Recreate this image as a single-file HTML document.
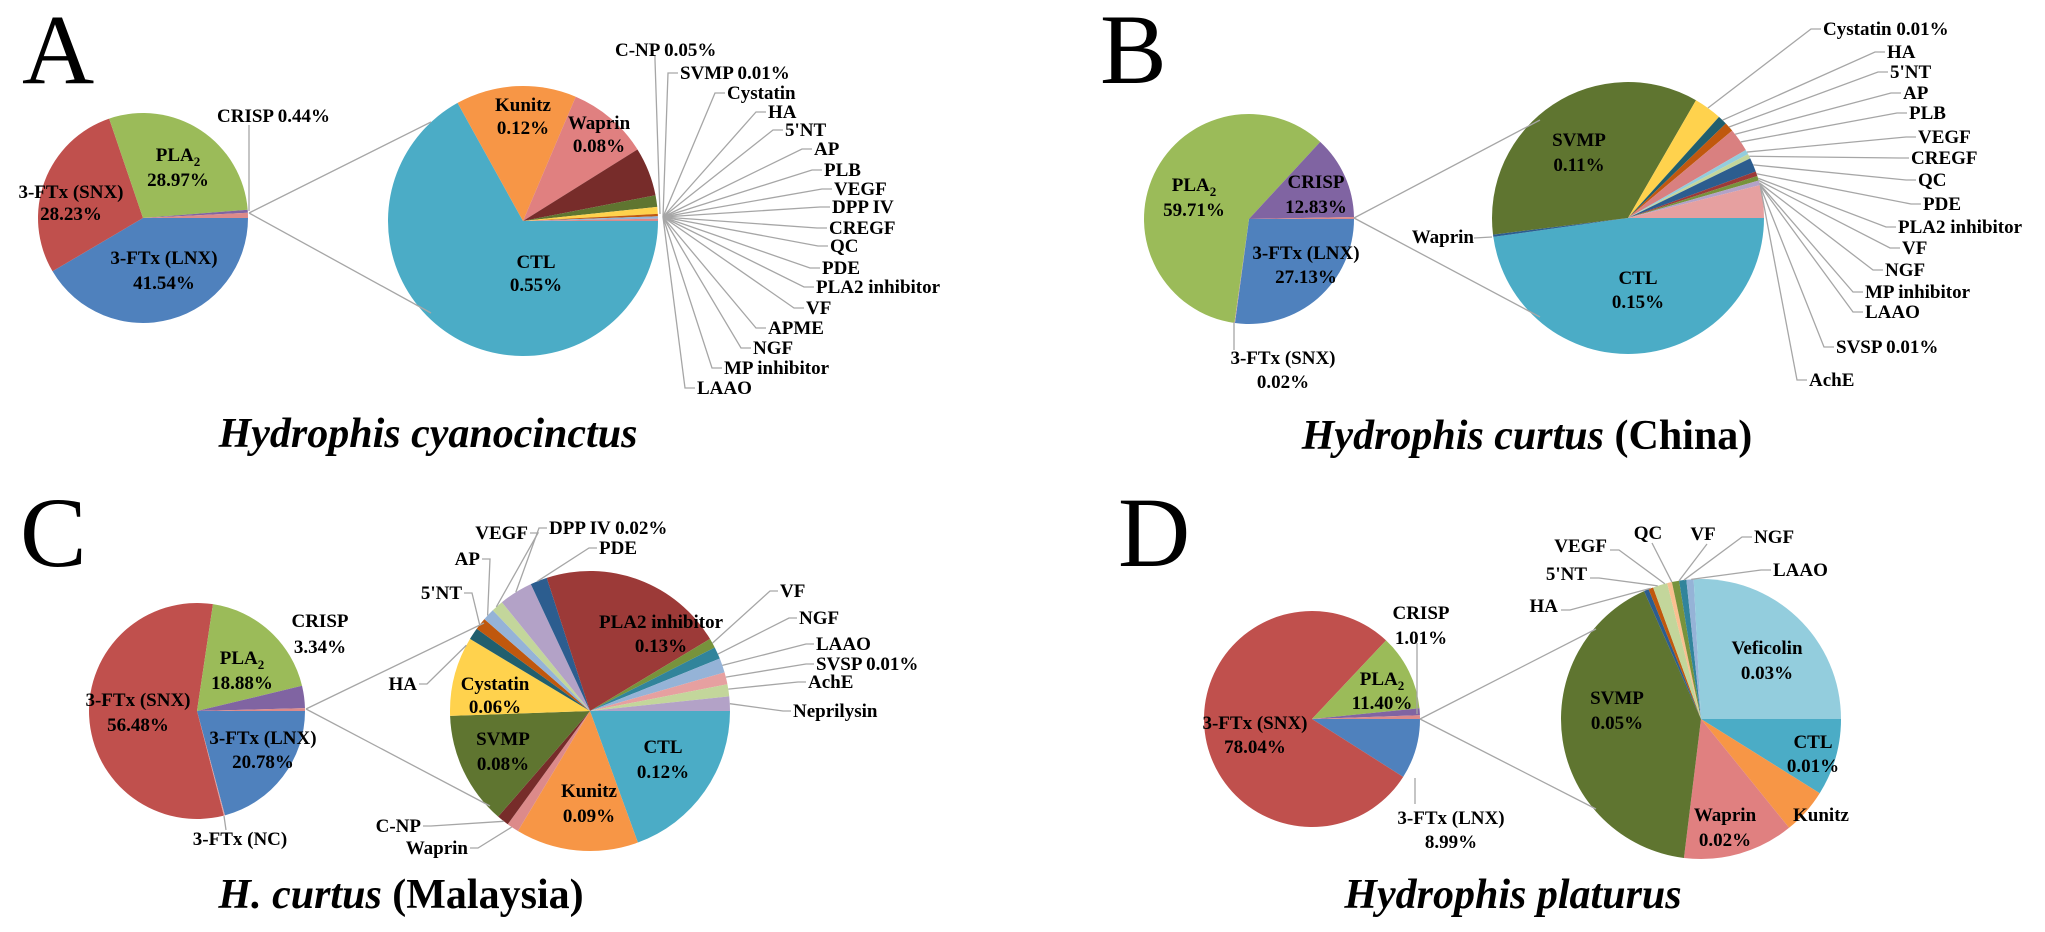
<!DOCTYPE html>
<html><head><meta charset="utf-8"><style>
html,body{margin:0;padding:0;background:#fff;}
svg{display:block;font-family:"Liberation Serif",serif;}
.l{font-size:19px;font-weight:bold;fill:#000;}
.c{text-anchor:middle;}
.t{font-size:42px;font-weight:bold;text-anchor:middle;}
.big{font-size:100px;}
line,polyline{stroke:#a6a6a6;stroke-width:1.3;fill:none;}
</style></head><body>
<svg id="s" width="2045" height="932" viewBox="0 0 2045 932" xmlns="http://www.w3.org/2000/svg">
<rect width="2045" height="932" fill="#fff"/>
<g id="pies"></g>
<g id="lines"></g>
<!-- Panel A -->
<text class="big" x="22" y="83">A</text>
<text class="l c" x="178" y="161">PLA<tspan font-size="13" dy="5">2</tspan></text><text class="l c" x="178" y="186">28.97%</text>
<text class="l c" x="71" y="198">3-FTx (SNX)</text><text class="l c" x="71" y="220">28.23%</text>
<text class="l c" x="164" y="264">3-FTx (LNX)</text><text class="l c" x="164" y="289">41.54%</text>
<text class="l" x="217" y="122">CRISP 0.44%</text>
<text class="l c" x="523" y="111">Kunitz</text><text class="l c" x="523" y="134">0.12%</text>
<text class="l c" x="599" y="129">Waprin</text><text class="l c" x="599" y="152">0.08%</text>
<text class="l c" x="536" y="268">CTL</text><text class="l c" x="536" y="291">0.55%</text>
<text class="t" x="428" y="447"><tspan font-style="italic">Hydrophis cyanocinctus</tspan></text>
<!-- Panel B -->
<text class="big" x="1100" y="83">B</text>
<text class="l c" x="1194" y="191">PLA<tspan font-size="13" dy="5">2</tspan></text><text class="l c" x="1194" y="216">59.71%</text>
<text class="l c" x="1316" y="188">CRISP</text><text class="l c" x="1316" y="213">12.83%</text>
<text class="l c" x="1306" y="259">3-FTx (LNX)</text><text class="l c" x="1306" y="283">27.13%</text>
<text class="l c" x="1283" y="364">3-FTx (SNX)</text><text class="l c" x="1283" y="388">0.02%</text>
<text class="l c" x="1579" y="146">SVMP</text><text class="l c" x="1579" y="171">0.11%</text>
<text class="l c" x="1638" y="284">CTL</text><text class="l c" x="1638" y="308">0.15%</text>
<text class="l" x="1474" y="243" text-anchor="end">Waprin</text>
<text class="t" x="1527" y="449"><tspan font-style="italic">Hydrophis curtus</tspan> (China)</text>
<!-- Panel C -->
<text class="big" x="20" y="566">C</text>
<text class="l c" x="242" y="664">PLA<tspan font-size="13" dy="5">2</tspan></text><text class="l c" x="242" y="689">18.88%</text>
<text class="l c" x="320" y="627">CRISP</text><text class="l c" x="320" y="653">3.34%</text>
<text class="l c" x="138" y="706">3-FTx (SNX)</text><text class="l c" x="138" y="731">56.48%</text>
<text class="l c" x="263" y="744">3-FTx (LNX)</text><text class="l c" x="263" y="768">20.78%</text>
<text class="l c" x="240" y="845">3-FTx (NC)</text>
<text class="l c" x="661" y="628">PLA2 inhibitor</text><text class="l c" x="661" y="652">0.13%</text>
<text class="l c" x="495" y="690">Cystatin</text><text class="l c" x="495" y="713">0.06%</text>
<text class="l c" x="503" y="745">SVMP</text><text class="l c" x="503" y="770">0.08%</text>
<text class="l c" x="663" y="753">CTL</text><text class="l c" x="663" y="778">0.12%</text>
<text class="l c" x="589" y="797">Kunitz</text><text class="l c" x="589" y="822">0.09%</text>
<text class="t" x="401" y="908"><tspan font-style="italic">H. curtus</tspan> (Malaysia)</text>
<!-- Panel D -->
<text class="big" x="1118" y="566">D</text>
<text class="l c" x="1421" y="619">CRISP</text><text class="l c" x="1421" y="644">1.01%</text>
<text class="l c" x="1382" y="685">PLA<tspan font-size="13" dy="5">2</tspan></text><text class="l c" x="1382" y="709">11.40%</text>
<text class="l c" x="1255" y="729">3-FTx (SNX)</text><text class="l c" x="1255" y="753">78.04%</text>
<text class="l c" x="1451" y="824">3-FTx (LNX)</text><text class="l c" x="1451" y="848">8.99%</text>
<text class="l c" x="1767" y="654">Veficolin</text><text class="l c" x="1767" y="679">0.03%</text>
<text class="l c" x="1617" y="704">SVMP</text><text class="l c" x="1617" y="729">0.05%</text>
<text class="l c" x="1813" y="748">CTL</text><text class="l c" x="1813" y="772">0.01%</text>
<text class="l c" x="1725" y="821">Waprin</text><text class="l c" x="1725" y="846">0.02%</text>
<text class="l c" x="1821" y="821">Kunitz</text>
<text class="t" x="1513" y="908"><tspan font-style="italic">Hydrophis platurus</tspan></text>
<g id="labs" class="l"></g>
</svg>
<script>
var NS="http://www.w3.org/2000/svg";
var P=document.getElementById("pies"),L=document.getElementById("lines"),LB=document.getElementById("labs");
function pt(cx,cy,r,a){a=a*Math.PI/180;return [cx+r*Math.cos(a),cy+r*Math.sin(a)];}
function pie(cx,cy,r,segs){var a=0;for(var i=0;i<segs.length;i++){var b=segs[i][0],col=segs[i][1];
var p0=pt(cx,cy,r,a),p1=pt(cx,cy,r,b);var e=document.createElementNS(NS,"path");
e.setAttribute("d","M"+cx+","+cy+"L"+p0[0]+","+p0[1]+"A"+r+","+r+" 0 "+((b-a)>180?1:0)+" 1 "+p1[0]+","+p1[1]+"Z");
e.setAttribute("fill",col);P.appendChild(e);a=b;}}
function ln(pts){var e=document.createElementNS(NS,"polyline");e.setAttribute("points",pts.map(function(p){return p.join(",")}).join(" "));L.appendChild(e);}
function lab(txt,x,y,anchor){var e=document.createElementNS(NS,"text");e.setAttribute("x",x);e.setAttribute("y",y+6);if(anchor)e.setAttribute("text-anchor",anchor);e.textContent=txt;LB.appendChild(e);}
var BL="#4f81bd",RD="#c0504d",GR="#9bbb59",PU="#8064a2",CY="#4bacc6",OR="#f79646",PK="#dc8a8a",DR="#772c2a",OL="#5f7530",YE="#ffd24d",TE="#215f6e",BO="#c0580e",LB1="#95b3d7",LG="#c3d69b",LV="#b3a2c7",DB="#2c5d8f",MR="#9c3a38",LC="#93cddd";
// A
pie(143,218,105,[[149.5,BL],[251.2,RD],[355.5,GR],[357.1,PU],[360,PK]]);
pie(523,221,135,[[241,CY],[293,OR],[328,"#e08080"],[349,DR],[354,OL],[357,YE],[358,BO],[359,LB1],[360,PK]]);
ln([[249,213],[431,122]]);ln([[249,213],[431,313]]);ln([[249,125],[249,211]]);
ln([[655,55],[655,60],[660,214]]);
var hub=[663,217];
var A=[["SVMP 0.01%",680,73],["Cystatin",727,93],["HA",768,112],["5'NT",785,130],["AP",814,149],["PLB",824,170],["VEGF",834,189],["DPP IV",832,207],["CREGF",829,228],["QC",830,246],["PDE",822,268],["PLA2 inhibitor",816,287],["VF",806,308],["APME",768,328],["NGF",753,348],["MP inhibitor",724,368],["LAAO",697,388]];
lab("C-NP 0.05%",615,50);
A.forEach(function(d){ln([hub,[d[1]-12,d[2]],[d[1]-2,d[2]]]);lab(d[0],d[1],d[2]);});
// B
pie(1249,219,105,[[97.7,BL],[98,"#e0a0a0"],[312.7,GR],[358.9,PU],[360,PK]]);
pie(1628,218,136,[[172,CY],[173,"#2c5d8f"],[300,OL],[312,YE],[316,TE],[320,BO],[330,"#d98080"],[332,LC],[334,LG],[340,DB],[342,MR],[344,"#77933c"],[346,LV],[360,"#e6a0a0"]]);
ln([[1354,218],[1540,120]]);ln([[1354,218],[1540,317]]);ln([[1234,322],[1234,350]]);ln([[1474,238],[1492,237]]);
var B=[["Cystatin 0.01%",1823,29,306],["HA",1887,52,314],["5'NT",1890,72,318],["AP",1903,93,322],["PLB",1909,113,326],["VEGF",1918,137,331],["CREGF",1911,158,333],["QC",1918,180,337],["PDE",1923,204,341],["PLA2 inhibitor",1898,227,343],["VF",1902,248,344],["NGF",1885,270,345],["MP inhibitor",1865,292,345.5],["LAAO",1865,312,346],["SVSP 0.01%",1836,347,346.5],["AchE",1809,380,347]];
B.forEach(function(d){var p=pt(1628,218,136,d[3]);ln([p,[d[1]-12,d[2]],[d[1]-2,d[2]]]);lab(d[0],d[1],d[2]);});
// C
pie(197,711,108,[[75,BL],[75.6,"#e0a0a0"],[278.5,RD],[346.5,GR],[358.5,PU],[360,PK]]);
pie(590,711,140,[[70,CY],[121,OR],[126,PK],[131,DR],[178,OL],[211,YE],[216,TE],[221,BO],[226,LB1],[231,LG],[245,LV],[252,DB],[329,MR],[333,"#77933c"],[338,"#31849b"],[344,LB1],[349,"#e6a0a0"],[354,LG],[360,LV]]);
ln([[306,709],[484,623]]);ln([[306,709],[490,806]]);ln([[224,816],[226,830]]);
var C=[["HA",398,684,208,"e"],["5'NT",424,593,218,"e"],["AP",461,559,223,"e"],["VEGF",490,533,228,"e"],["DPP IV 0.02%",549,528,238,"s"],["PDE",599,548,248,"s"],["VF",780,591,331,"s"],["NGF",799,618,336,"s"],["LAAO",816,644,341,"s"],["SVSP 0.01%",816,664,346,"s"],["AchE",808,682,351,"s"],["Neprilysin",793,711,357,"s"],["C-NP",383,826,128,"e"],["Waprin",411,848,124,"e"]];
C.forEach(function(d){var p=pt(590,711,140,d[3]);var w=d[0].length*9.5;
if(d[4]=="e"){var tx=d[1]+w;ln([p,[tx+10,d[2]],[tx+2,d[2]]]);lab(d[0],tx,d[2],"end");}
else{ln([p,[d[1]-10,d[2]],[d[1]-2,d[2]]]);lab(d[0],d[1],d[2]);}});
// D
pie(1312,719,108,[[32.4,BL],[313.3,RD],[354.3,GR],[358,PU],[360,PK]]);
pie(1701,719,140,[[32,CY],[51,OR],[97,"#e08080"],[246,OL],[248,DB],[250,BO],[256,LG],[258,"#fac090"],[261,"#77933c"],[264,"#31849b"],[267,LB1],[360,LC]]);
ln([[1420,719],[1596,629]]);ln([[1420,719],[1596,809]]);ln([[1417,643],[1417,714]]);ln([[1415,778],[1415,804]]);
var D=[["HA",1548,606,249,"e"],["5'NT",1567,574,252,"e"],["VEGF",1587,546,255,"e"],["QC",1648,533,258,"m"],["VF",1703,534,261,"m"],["NGF",1769,537,263,"s"],["LAAO",1793,570,266,"s"]];
D.forEach(function(d){var p=pt(1701,719,140,d[3]);var w=d[0].length*10;
if(d[4]=="e"){var tx=d[1]+w/2;ln([p,[tx+12,d[2]+4],[tx+3,d[2]+4]]);lab(d[0],tx,d[2],"end");}
else if(d[4]=="m"){ln([p,[d[1]+4,d[2]+10]]);lab(d[0],d[1],d[2],"middle");}
else{var tx=d[1]-w/2;ln([p,[tx-12,d[2]],[tx-2,d[2]]]);lab(d[0],tx,d[2]);}});
</script>
</body></html>
